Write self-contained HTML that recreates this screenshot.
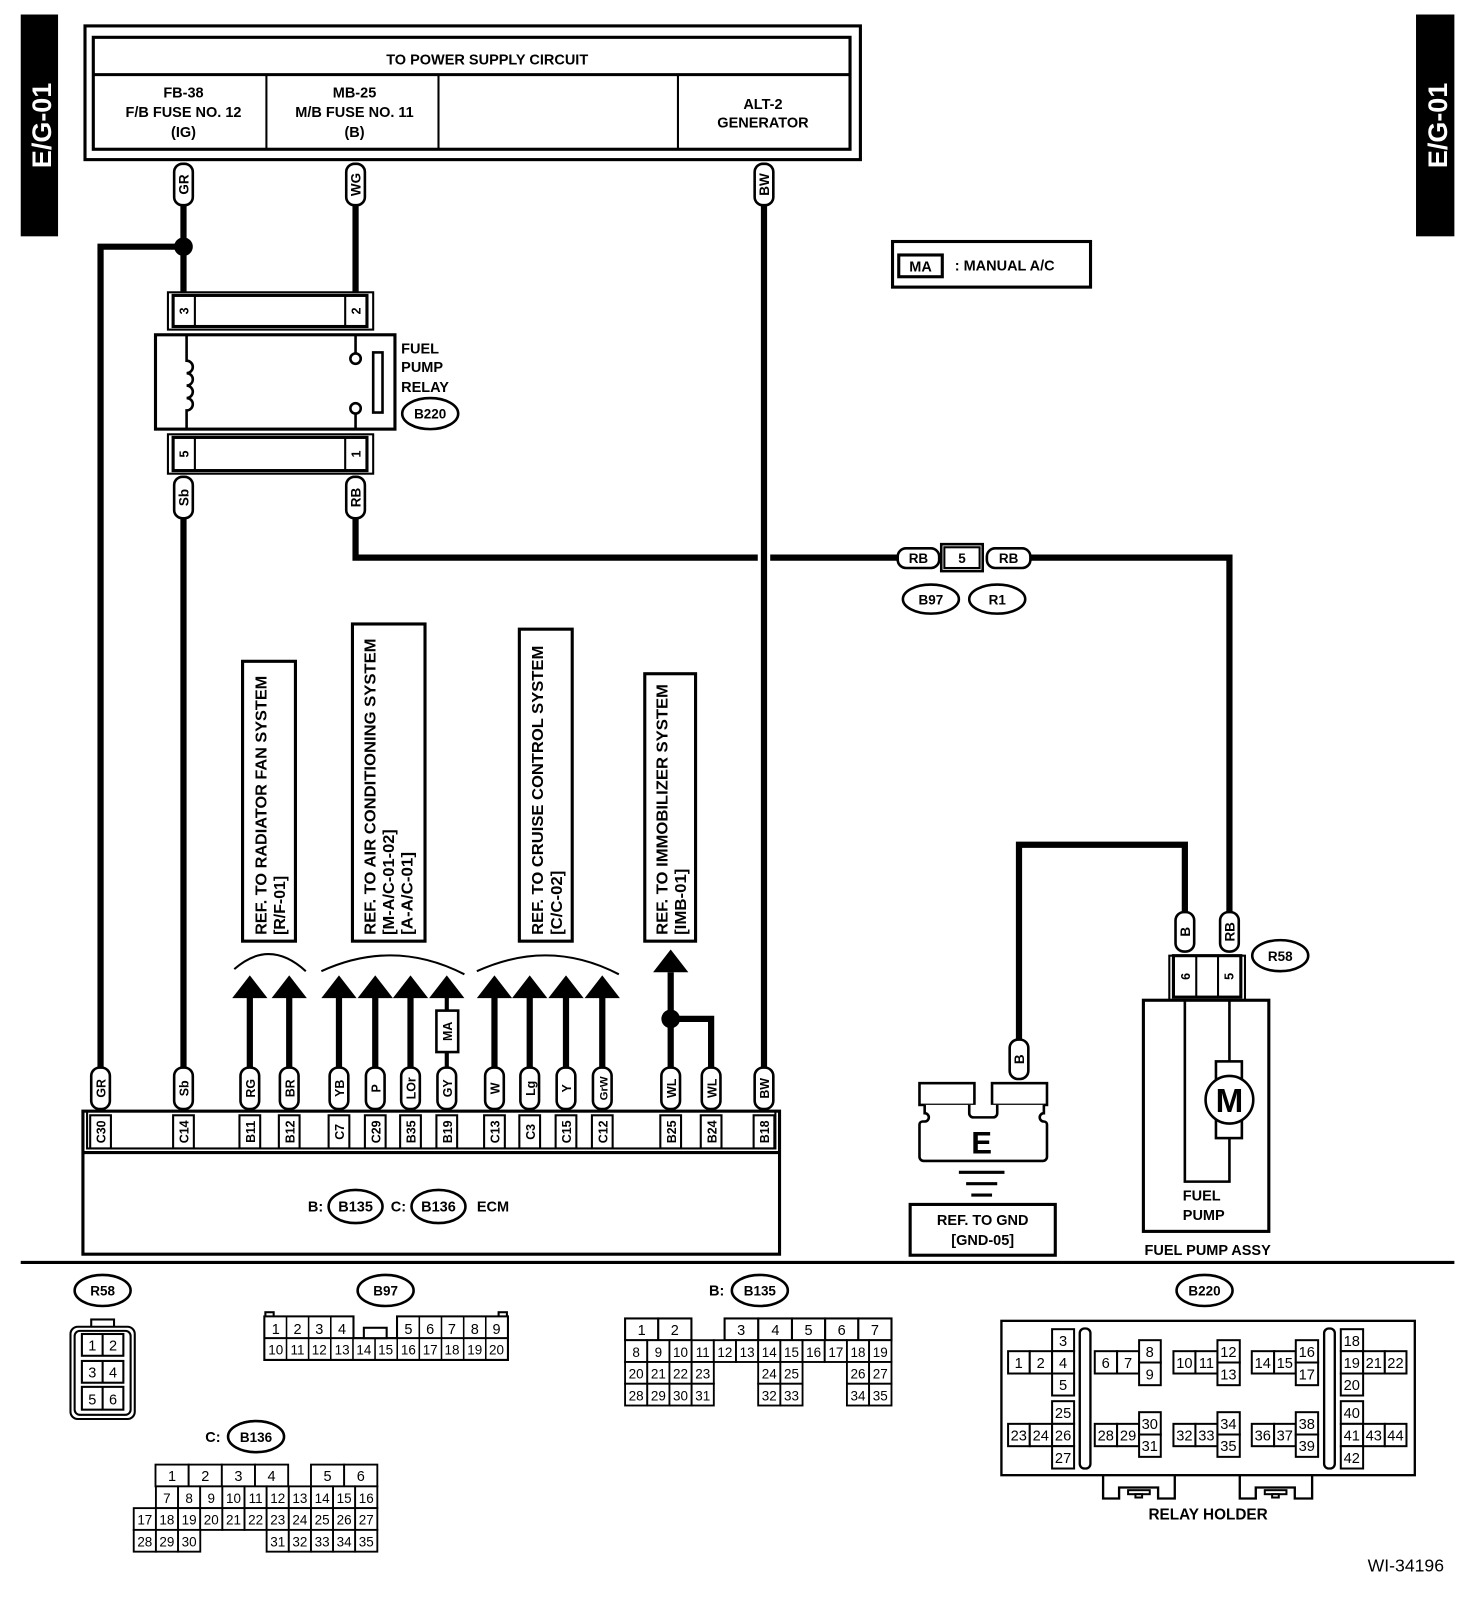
<!DOCTYPE html>
<html><head><meta charset="utf-8"><style>
html,body{margin:0;padding:0;background:#fff}
svg{display:block}
text{font-family:"Liberation Sans",Arial,sans-serif;font-weight:bold;fill:#000}
</style></head><body>
<svg width="1472" height="1618" viewBox="0 0 1420 1561" preserveAspectRatio="none" xmlns="http://www.w3.org/2000/svg">
<rect x="0" y="0" width="1420" height="1561" fill="#fff"/>
<rect x="20" y="14" width="36" height="214" fill="#000"/>
<text transform="translate(49,121) rotate(-90)" text-anchor="middle" font-size="26" style="fill:#fff">E/G-01</text>
<rect x="1366" y="14" width="37" height="214" fill="#000"/>
<text transform="translate(1396,121) rotate(-90)" text-anchor="middle" font-size="26" style="fill:#fff">E/G-01</text>

<g fill="none" stroke="#000">
<rect x="82" y="25" width="748" height="129" stroke-width="3"/>
<rect x="90" y="36" width="730" height="108" stroke-width="3"/>
<line x1="90" y1="72" x2="820" y2="72" stroke-width="3"/>
<line x1="257" y1="72" x2="257" y2="144" stroke-width="2"/>
<line x1="423" y1="72" x2="423" y2="144" stroke-width="2"/>
<line x1="654" y1="72" x2="654" y2="144" stroke-width="2"/>
</g>
<g font-size="14" text-anchor="middle">
<text x="470" y="62">TO POWER SUPPLY CIRCUIT</text>
<text x="177" y="94">FB-38</text><text x="177" y="113">F/B FUSE NO. 12</text><text x="177" y="132">(IG)</text>
<text x="342" y="94">MB-25</text><text x="342" y="113">M/B FUSE NO. 11</text><text x="342" y="132">(B)</text>
<text x="736" y="105">ALT-2</text><text x="736" y="123">GENERATOR</text>
</g>

<g stroke="#000" stroke-width="6" fill="none">
<line x1="177" y1="198" x2="177" y2="282"/>
<polyline points="177,238 97,238 97,1030"/>
<line x1="343" y1="198" x2="343" y2="282"/>
<line x1="737" y1="198" x2="737" y2="1030"/>
<line x1="177" y1="500" x2="177" y2="1030"/>
<polyline points="343,500 343,538 731,538"/>
<line x1="743" y1="538" x2="868" y2="538"/>
<polyline points="995,538 1186,538 1186,880"/>
<polyline points="1143,880 1143,815 983,815 983,1003"/>
<polyline points="647,938 647,1030"/>
<polyline points="647,983 686,983 686,1030"/>
</g>
<circle cx="177" cy="238" r="9" fill="#000"/>
<circle cx="647" cy="983" r="9" fill="#000"/>

<g fill="#fff" stroke="#000" stroke-width="2.5">
<rect x="168" y="158" width="18" height="40" rx="8"/>
<rect x="334" y="158" width="18" height="40" rx="8"/>
<rect x="728" y="158" width="18" height="40" rx="8"/>
<rect x="168" y="460" width="18" height="40" rx="8"/>
<rect x="334" y="460" width="18" height="40" rx="8"/>
<rect x="1134" y="880" width="18" height="38" rx="8"/>
<rect x="1177" y="880" width="18" height="38" rx="8"/>
<rect x="974" y="1003" width="18" height="38" rx="8"/>
</g>
<g font-size="13">
<text transform="translate(182,178) rotate(-90)" text-anchor="middle">GR</text>
<text transform="translate(348,178) rotate(-90)" text-anchor="middle">WG</text>
<text transform="translate(742,178) rotate(-90)" text-anchor="middle">BW</text>
<text transform="translate(182,480) rotate(-90)" text-anchor="middle">Sb</text>
<text transform="translate(348,480) rotate(-90)" text-anchor="middle">RB</text>
<text transform="translate(1148,899) rotate(-90)" text-anchor="middle">B</text>
<text transform="translate(1191,899) rotate(-90)" text-anchor="middle">RB</text>
<text transform="translate(988,1022) rotate(-90)" text-anchor="middle">B</text>
</g>

<g fill="#fff" stroke="#000">
<rect x="162" y="282" width="198" height="36" stroke-width="2"/>
<rect x="167" y="285" width="187" height="30" stroke-width="3"/>
<line x1="188" y1="285" x2="188" y2="315" stroke-width="2"/>
<line x1="333" y1="285" x2="333" y2="315" stroke-width="2"/>
<rect x="150" y="323" width="231" height="91" stroke-width="3"/>
<rect x="162" y="419" width="198" height="38" stroke-width="2"/>
<rect x="167" y="422" width="187" height="32" stroke-width="3"/>
<line x1="188" y1="422" x2="188" y2="454" stroke-width="2"/>
<line x1="333" y1="422" x2="333" y2="454" stroke-width="2"/>
</g>
<g font-size="12">
<text transform="translate(182,300) rotate(-90)" text-anchor="middle">3</text>
<text transform="translate(348,300) rotate(-90)" text-anchor="middle">2</text>
<text transform="translate(182,438) rotate(-90)" text-anchor="middle">5</text>
<text transform="translate(348,438) rotate(-90)" text-anchor="middle">1</text>
</g>
<g fill="none" stroke="#000" stroke-width="2.5">
<path d="M180,323 V348 a6,6 0 1 1 0,12 a6,6 0 1 1 0,12 a6,6 0 1 1 0,12 a6,6 0 1 1 0,12 V414"/>
<line x1="343" y1="323" x2="343" y2="341"/>
<circle cx="343" cy="346" r="5"/>
<circle cx="343" cy="394" r="5"/>
<line x1="343" y1="399" x2="343" y2="414"/>
<rect x="360" y="340" width="9" height="58"/>
</g>
<g font-size="14">
<text x="387" y="341">FUEL</text><text x="387" y="359">PUMP</text><text x="387" y="378">RELAY</text>
</g>
<ellipse cx="415" cy="399" rx="27" ry="15" fill="#fff" stroke="#000" stroke-width="2.5"/>
<text x="415" y="404" font-size="13" text-anchor="middle">B220</text>

<g fill="#fff" stroke="#000" stroke-width="2.5">
<rect x="866" y="529" width="40" height="19" rx="8"/>
<rect x="952" y="529" width="42" height="19" rx="8"/>
<rect x="908" y="525" width="40" height="26"/>
<ellipse cx="898" cy="578" rx="27" ry="14"/>
<ellipse cx="962" cy="578" rx="27" ry="14"/>
</g>
<rect x="911" y="528" width="34" height="20" fill="#fff" stroke="#000" stroke-width="2"/>
<g font-size="13" text-anchor="middle">
<text x="886" y="543">RB</text><text x="928" y="543">5</text><text x="973" y="543">RB</text>
<text x="898" y="583">B97</text><text x="962" y="583">R1</text>
</g>

<rect x="861" y="233" width="191" height="44" fill="none" stroke="#000" stroke-width="3"/>
<rect x="867" y="246" width="42" height="21" fill="none" stroke="#000" stroke-width="3"/>
<text x="888" y="262" font-size="14" text-anchor="middle">MA</text>
<text x="921" y="261" font-size="14">: MANUAL A/C</text>

<g fill="none" stroke="#000" stroke-width="3">
<rect x="234" y="638" width="51" height="270"/>
<rect x="340" y="602" width="70" height="306"/>
<rect x="501" y="607" width="51" height="301"/>
<rect x="622" y="650" width="49" height="258"/>
</g>
<g font-size="15">
<text transform="translate(257,902) rotate(-90)" textLength="250" lengthAdjust="spacingAndGlyphs">REF. TO RADIATOR FAN SYSTEM</text>
<text transform="translate(275,902) rotate(-90)" textLength="57" lengthAdjust="spacingAndGlyphs">[R/F-01]</text>
<text transform="translate(362,902) rotate(-90)" textLength="286" lengthAdjust="spacingAndGlyphs">REF. TO AIR CONDITIONING SYSTEM</text>
<text transform="translate(380,902) rotate(-90)" textLength="102" lengthAdjust="spacingAndGlyphs">[M-A/C-01-02]</text>
<text transform="translate(398,902) rotate(-90)" textLength="80" lengthAdjust="spacingAndGlyphs">[A-A/C-01]</text>
<text transform="translate(524,902) rotate(-90)" textLength="279" lengthAdjust="spacingAndGlyphs">REF. TO CRUISE CONTROL  SYSTEM</text>
<text transform="translate(542,902) rotate(-90)" textLength="62" lengthAdjust="spacingAndGlyphs">[C/C-02]</text>
<text transform="translate(644,902) rotate(-90)" textLength="242" lengthAdjust="spacingAndGlyphs">REF. TO IMMOBILIZER SYSTEM</text>
<text transform="translate(662,902) rotate(-90)" textLength="64" lengthAdjust="spacingAndGlyphs">[IMB-01]</text>
</g>
<g fill="none" stroke="#000" stroke-width="2">
<path d="M226,935 Q260,905 295,937"/>
<path d="M310,937 Q380,905 448,940"/>
<path d="M460,937 Q530,905 597,940"/>
</g>

<g stroke="#000" stroke-width="6">
<line x1="241" y1="960" x2="241" y2="1030"/>
<line x1="279" y1="960" x2="279" y2="1030"/>
<line x1="327" y1="960" x2="327" y2="1030"/>
<line x1="362" y1="960" x2="362" y2="1030"/>
<line x1="396" y1="960" x2="396" y2="1030"/>
<line x1="477" y1="960" x2="477" y2="1030"/>
<line x1="511" y1="960" x2="511" y2="1030"/>
<line x1="546" y1="960" x2="546" y2="1030"/>
<line x1="581" y1="960" x2="581" y2="1030"/>
</g>
<g stroke="#000" stroke-width="4">
<line x1="431" y1="960" x2="431" y2="976"/>
<line x1="431" y1="1014" x2="431" y2="1030"/>
</g>
<rect x="421" y="975" width="21" height="40" fill="#fff" stroke="#000" stroke-width="2.5"/>
<text transform="translate(436,995) rotate(-90)" font-size="12" text-anchor="middle">MA</text>
<g fill="#000">
<polygon points="224,963 241,941 258,963"/>
<polygon points="262,963 279,941 296,963"/>
<polygon points="310,963 327,941 344,963"/>
<polygon points="345,963 362,941 379,963"/>
<polygon points="379,963 396,941 413,963"/>
<polygon points="414,963 431,941 448,963"/>
<polygon points="460,963 477,941 494,963"/>
<polygon points="494,963 511,941 528,963"/>
<polygon points="529,963 546,941 563,963"/>
<polygon points="564,963 581,941 598,963"/>
<polygon points="630,938 647,916 664,938"/>
</g>

<g fill="#fff" stroke="#000" stroke-width="2.5">
<rect x="88" y="1030" width="18" height="40" rx="8"/>
<rect x="168" y="1030" width="18" height="40" rx="8"/>
<rect x="232" y="1030" width="18" height="40" rx="8"/>
<rect x="270" y="1030" width="18" height="40" rx="8"/>
<rect x="318" y="1030" width="18" height="40" rx="8"/>
<rect x="353" y="1030" width="18" height="40" rx="8"/>
<rect x="387" y="1030" width="18" height="40" rx="8"/>
<rect x="422" y="1030" width="18" height="40" rx="8"/>
<rect x="468" y="1030" width="18" height="40" rx="8"/>
<rect x="502" y="1030" width="18" height="40" rx="8"/>
<rect x="537" y="1030" width="18" height="40" rx="8"/>
<rect x="572" y="1030" width="18" height="40" rx="8"/>
<rect x="638" y="1030" width="18" height="40" rx="8"/>
<rect x="677" y="1030" width="18" height="40" rx="8"/>
<rect x="728" y="1030" width="18" height="40" rx="8"/>
</g>
<g font-size="12" text-anchor="middle">
<text transform="translate(102,1050) rotate(-90)">GR</text>
<text transform="translate(182,1050) rotate(-90)">Sb</text>
<text transform="translate(246,1050) rotate(-90)">RG</text>
<text transform="translate(284,1050) rotate(-90)">BR</text>
<text transform="translate(332,1050) rotate(-90)">YB</text>
<text transform="translate(367,1050) rotate(-90)">P</text>
<text transform="translate(401,1050) rotate(-90)">LOr</text>
<text transform="translate(436,1050) rotate(-90)">GY</text>
<text transform="translate(482,1050) rotate(-90)">W</text>
<text transform="translate(516,1050) rotate(-90)">Lg</text>
<text transform="translate(551,1050) rotate(-90)">Y</text>
<text transform="translate(586,1050) rotate(-90)" font-size="11">GrW</text>
<text transform="translate(652,1050) rotate(-90)">WL</text>
<text transform="translate(691,1050) rotate(-90)">WL</text>
<text transform="translate(742,1050) rotate(-90)">BW</text>
</g>
<rect x="80" y="1072" width="672" height="138" fill="#fff" stroke="#000" stroke-width="3"/>
<rect x="84" y="1072" width="664" height="36" fill="none" stroke="#000" stroke-width="2"/>
<line x1="80" y1="1112" x2="752" y2="1112" stroke="#000" stroke-width="3"/>
<g fill="none" stroke="#000" stroke-width="2">
<rect x="87" y="1076" width="20" height="32"/>
<rect x="167" y="1076" width="20" height="32"/>
<rect x="231" y="1076" width="20" height="32"/>
<rect x="269" y="1076" width="20" height="32"/>
<rect x="317" y="1076" width="20" height="32"/>
<rect x="352" y="1076" width="20" height="32"/>
<rect x="386" y="1076" width="20" height="32"/>
<rect x="421" y="1076" width="20" height="32"/>
<rect x="467" y="1076" width="20" height="32"/>
<rect x="501" y="1076" width="20" height="32"/>
<rect x="536" y="1076" width="20" height="32"/>
<rect x="571" y="1076" width="20" height="32"/>
<rect x="637" y="1076" width="20" height="32"/>
<rect x="676" y="1076" width="20" height="32"/>
<rect x="727" y="1076" width="20" height="32"/>
</g>
<g font-size="12" text-anchor="middle">
<text transform="translate(102,1092) rotate(-90)">C30</text>
<text transform="translate(182,1092) rotate(-90)">C14</text>
<text transform="translate(246,1092) rotate(-90)">B11</text>
<text transform="translate(284,1092) rotate(-90)">B12</text>
<text transform="translate(332,1092) rotate(-90)">C7</text>
<text transform="translate(367,1092) rotate(-90)">C29</text>
<text transform="translate(401,1092) rotate(-90)">B35</text>
<text transform="translate(436,1092) rotate(-90)">B19</text>
<text transform="translate(482,1092) rotate(-90)">C13</text>
<text transform="translate(516,1092) rotate(-90)">C3</text>
<text transform="translate(551,1092) rotate(-90)">C15</text>
<text transform="translate(586,1092) rotate(-90)">C12</text>
<text transform="translate(652,1092) rotate(-90)">B25</text>
<text transform="translate(691,1092) rotate(-90)">B24</text>
<text transform="translate(742,1092) rotate(-90)">B18</text>
</g>
<g fill="#fff" stroke="#000" stroke-width="2.5">
<ellipse cx="343" cy="1164" rx="26" ry="16"/>
<ellipse cx="423" cy="1164" rx="26" ry="16"/>
</g>
<g font-size="14">
<text x="297" y="1169">B:</text><text x="343" y="1169" text-anchor="middle">B135</text>
<text x="377" y="1169">C:</text><text x="423" y="1169" text-anchor="middle">B136</text>
<text x="460" y="1169">ECM</text>
</g>

<g fill="#fff" stroke="#000" stroke-width="2.5">
<rect x="887" y="1045" width="53" height="21"/>
<rect x="957" y="1045" width="53" height="21"/>
<path d="M892,1066 V1074 a4,4 0 0 1 0,8 H890 a3,3 0 0 0 -3,3 V1116 a4,4 0 0 0 4,4 H1006 a4,4 0 0 0 4,-4 V1085 a3,3 0 0 0 -3,-3 a4,4 0 0 1 0,-8 V1066 M935,1066 V1074 a4,4 0 0 0 4,4 H958 a4,4 0 0 0 4,-4 V1066"/>
</g>
<text x="947" y="1113" font-size="30" text-anchor="middle">E</text>
<g stroke="#000" stroke-width="3">
<line x1="925" y1="1131" x2="969" y2="1131"/>
<line x1="932" y1="1142" x2="962" y2="1142"/>
<line x1="937" y1="1153" x2="957" y2="1153"/>
</g>
<rect x="878" y="1162" width="140" height="49" fill="none" stroke="#000" stroke-width="3"/>
<g font-size="14" text-anchor="middle"><text x="948" y="1182">REF. TO GND</text><text x="948" y="1201">[GND-05]</text></g>

<g fill="#fff" stroke="#000">
<rect x="1128" y="922" width="73" height="43" stroke-width="2"/>
<rect x="1132" y="922" width="65" height="40" stroke-width="3"/>
<line x1="1154" y1="922" x2="1154" y2="962" stroke-width="2"/>
<line x1="1175" y1="922" x2="1175" y2="962" stroke-width="2"/>
<rect x="1103" y="965" width="121" height="223" stroke-width="3"/>
<ellipse cx="1235" cy="922" rx="27" ry="15" stroke-width="2.5"/>
</g>
<g font-size="12" text-anchor="middle">
<text transform="translate(1148,942) rotate(-90)">6</text>
<text transform="translate(1190,942) rotate(-90)">5</text>
</g>
<text x="1235" y="927" font-size="13" text-anchor="middle">R58</text>
<g fill="none" stroke="#000" stroke-width="2.5">
<polyline points="1143,965 1143,1140 1186,1140 1186,1098"/>
<line x1="1186" y1="965" x2="1186" y2="1024"/>
<rect x="1173" y="1024" width="25" height="74" fill="#fff"/>
<circle cx="1186" cy="1061" r="23" fill="#fff"/>
</g>
<text x="1186" y="1073" font-size="32" text-anchor="middle">M</text>
<g font-size="14"><text x="1141" y="1158">FUEL</text><text x="1141" y="1177">PUMP</text></g>
<text x="1165" y="1211" font-size="14" text-anchor="middle">FUEL PUMP ASSY</text>

<line x1="20" y1="1218" x2="1403" y2="1218" stroke="#000" stroke-width="3"/>

<g fill="#fff" stroke="#000" stroke-width="2.5">
<ellipse cx="99" cy="1245" rx="27" ry="15"/>
<ellipse cx="372" cy="1245" rx="27" ry="15"/>
<ellipse cx="733" cy="1245" rx="27" ry="15"/>
<ellipse cx="247" cy="1386" rx="27" ry="15"/>
</g>
<g font-size="13" text-anchor="middle">
<text x="99" y="1250">R58</text><text x="372" y="1250">B97</text>
<text x="733" y="1250">B135</text><text x="247" y="1391">B136</text>
</g>
<text x="684" y="1250" font-size="14">B:</text>
<text x="198" y="1391" font-size="14">C:</text>

<g fill="#fff" stroke="#000" stroke-width="2">
<rect x="88" y="1273" width="22" height="9"/>
<rect x="68" y="1280" width="62" height="89" rx="7"/>
<rect x="72" y="1284" width="54" height="81" rx="5"/>
<rect x="79" y="1287" width="40" height="21"/>
<line x1="99" y1="1287" x2="99" y2="1308"/>
<rect x="79" y="1313" width="40" height="21"/>
<line x1="99" y1="1313" x2="99" y2="1334"/>
<rect x="79" y="1338" width="40" height="22"/>
<line x1="99" y1="1338" x2="99" y2="1360"/>
</g>
<g font-size="14" text-anchor="middle">
<text x="89" y="1303" style="font-weight:normal">1</text><text x="109" y="1303" style="font-weight:normal">2</text>
<text x="89" y="1329" style="font-weight:normal">3</text><text x="109" y="1329" style="font-weight:normal">4</text>
<text x="89" y="1355" style="font-weight:normal">5</text><text x="109" y="1355" style="font-weight:normal">6</text>
</g>

<g fill="#fff" stroke="#000" stroke-width="2">
<rect x="256" y="1266" width="8" height="5"/>
<rect x="481" y="1266" width="8" height="5"/>
<path d="M255,1270 H341 V1291 H383 V1270 H490 V1312 H255 Z"/>
<line x1="255" y1="1291" x2="490" y2="1291"/>
<rect x="351" y="1281" width="22" height="10"/>
</g>
<g stroke="#000" stroke-width="1.5">
<line x1="276.4" y1="1270" x2="276.4" y2="1312"/><line x1="297.7" y1="1270" x2="297.7" y2="1312"/><line x1="319.1" y1="1270" x2="319.1" y2="1312"/>
<line x1="340.5" y1="1291" x2="340.5" y2="1312"/><line x1="361.8" y1="1291" x2="361.8" y2="1312"/><line x1="383.2" y1="1291" x2="383.2" y2="1312"/>
<line x1="404.5" y1="1270" x2="404.5" y2="1312"/><line x1="425.9" y1="1270" x2="425.9" y2="1312"/><line x1="447.3" y1="1270" x2="447.3" y2="1312"/><line x1="468.6" y1="1270" x2="468.6" y2="1312"/>
</g>
<g font-size="14" text-anchor="middle">
<text x="266" y="1287" style="font-weight:normal">1</text><text x="287" y="1287" style="font-weight:normal">2</text><text x="308" y="1287" style="font-weight:normal">3</text><text x="330" y="1287" style="font-weight:normal">4</text>
<text x="394" y="1287" style="font-weight:normal">5</text><text x="415" y="1287" style="font-weight:normal">6</text><text x="436" y="1287" style="font-weight:normal">7</text><text x="458" y="1287" style="font-weight:normal">8</text><text x="479" y="1287" style="font-weight:normal">9</text>
</g>
<g font-size="13" text-anchor="middle">
<text x="266" y="1307" style="font-weight:normal">10</text><text x="287" y="1307" style="font-weight:normal">11</text><text x="308" y="1307" style="font-weight:normal">12</text><text x="330" y="1307" style="font-weight:normal">13</text><text x="351" y="1307" style="font-weight:normal">14</text><text x="372" y="1307" style="font-weight:normal">15</text><text x="394" y="1307" style="font-weight:normal">16</text><text x="415" y="1307" style="font-weight:normal">17</text><text x="436" y="1307" style="font-weight:normal">18</text><text x="458" y="1307" style="font-weight:normal">19</text><text x="479" y="1307" style="font-weight:normal">20</text>
</g>

<g fill="#fff" stroke="#000" stroke-width="2">
<rect x="603" y="1272" width="32" height="21"/><rect x="635" y="1272" width="32" height="21"/>
<rect x="699" y="1272" width="32.5" height="21"/><rect x="731.5" y="1272" width="32.5" height="21"/><rect x="764" y="1272" width="32" height="21"/><rect x="796" y="1272" width="32" height="21"/><rect x="828" y="1272" width="32" height="21"/>
</g>
<g fill="#fff" stroke="#000" stroke-width="1.8">
<rect x="603" y="1293" width="21.4" height="21"/><rect x="624.4" y="1293" width="21.4" height="21"/><rect x="645.8" y="1293" width="21.4" height="21"/><rect x="667.2" y="1293" width="21.4" height="21"/><rect x="688.6" y="1293" width="21.4" height="21"/><rect x="710" y="1293" width="21.4" height="21"/><rect x="731.4" y="1293" width="21.4" height="21"/><rect x="752.8" y="1293" width="21.4" height="21"/><rect x="774.2" y="1293" width="21.4" height="21"/><rect x="795.6" y="1293" width="21.4" height="21"/><rect x="817" y="1293" width="21.4" height="21"/><rect x="838.4" y="1293" width="21.6" height="21"/>
<rect x="603" y="1314" width="21.4" height="21"/><rect x="624.4" y="1314" width="21.4" height="21"/><rect x="645.8" y="1314" width="21.4" height="21"/><rect x="667.2" y="1314" width="21.4" height="21"/>
<rect x="731.4" y="1314" width="21.4" height="21"/><rect x="752.8" y="1314" width="21.4" height="21"/>
<rect x="817" y="1314" width="21.4" height="21"/><rect x="838.4" y="1314" width="21.6" height="21"/>
<rect x="603" y="1335" width="21.4" height="21"/><rect x="624.4" y="1335" width="21.4" height="21"/><rect x="645.8" y="1335" width="21.4" height="21"/><rect x="667.2" y="1335" width="21.4" height="21"/>
<rect x="731.4" y="1335" width="21.4" height="21"/><rect x="752.8" y="1335" width="21.4" height="21"/>
<rect x="817" y="1335" width="21.4" height="21"/><rect x="838.4" y="1335" width="21.6" height="21"/>
</g>
<g font-size="14" text-anchor="middle">
<text x="619" y="1288" style="font-weight:normal">1</text><text x="651" y="1288" style="font-weight:normal">2</text><text x="715" y="1288" style="font-weight:normal">3</text><text x="748" y="1288" style="font-weight:normal">4</text><text x="780" y="1288" style="font-weight:normal">5</text><text x="812" y="1288" style="font-weight:normal">6</text><text x="844" y="1288" style="font-weight:normal">7</text>
</g>
<g font-size="13" text-anchor="middle">
<text x="613.7" y="1309" style="font-weight:normal">8</text><text x="635.1" y="1309" style="font-weight:normal">9</text><text x="656.5" y="1309" style="font-weight:normal">10</text><text x="677.9" y="1309" style="font-weight:normal">11</text><text x="699.3" y="1309" style="font-weight:normal">12</text><text x="720.7" y="1309" style="font-weight:normal">13</text><text x="742.1" y="1309" style="font-weight:normal">14</text><text x="763.5" y="1309" style="font-weight:normal">15</text><text x="784.9" y="1309" style="font-weight:normal">16</text><text x="806.3" y="1309" style="font-weight:normal">17</text><text x="827.7" y="1309" style="font-weight:normal">18</text><text x="849.2" y="1309" style="font-weight:normal">19</text>
<text x="613.7" y="1330" style="font-weight:normal">20</text><text x="635.1" y="1330" style="font-weight:normal">21</text><text x="656.5" y="1330" style="font-weight:normal">22</text><text x="677.9" y="1330" style="font-weight:normal">23</text><text x="742.1" y="1330" style="font-weight:normal">24</text><text x="763.5" y="1330" style="font-weight:normal">25</text><text x="827.7" y="1330" style="font-weight:normal">26</text><text x="849.2" y="1330" style="font-weight:normal">27</text>
<text x="613.7" y="1351" style="font-weight:normal">28</text><text x="635.1" y="1351" style="font-weight:normal">29</text><text x="656.5" y="1351" style="font-weight:normal">30</text><text x="677.9" y="1351" style="font-weight:normal">31</text><text x="742.1" y="1351" style="font-weight:normal">32</text><text x="763.5" y="1351" style="font-weight:normal">33</text><text x="827.7" y="1351" style="font-weight:normal">34</text><text x="849.2" y="1351" style="font-weight:normal">35</text>
</g>

<g fill="#fff" stroke="#000" stroke-width="1.8">
<rect x="150" y="1413" width="32" height="21"/><rect x="182" y="1413" width="32" height="21"/><rect x="214" y="1413" width="32" height="21"/><rect x="246" y="1413" width="32" height="21"/>
<rect x="300" y="1413" width="32" height="21"/><rect x="332" y="1413" width="32" height="21"/>
<rect x="150.4" y="1434" width="21.4" height="21"/><rect x="171.8" y="1434" width="21.4" height="21"/><rect x="193.1" y="1434" width="21.4" height="21"/><rect x="214.5" y="1434" width="21.4" height="21"/><rect x="235.9" y="1434" width="21.4" height="21"/><rect x="257.2" y="1434" width="21.4" height="21"/><rect x="278.6" y="1434" width="21.4" height="21"/><rect x="300" y="1434" width="21.4" height="21"/><rect x="321.3" y="1434" width="21.4" height="21"/><rect x="342.6" y="1434" width="21.4" height="21"/>
<rect x="129" y="1455" width="21.4" height="21"/><rect x="150.4" y="1455" width="21.4" height="21"/><rect x="171.8" y="1455" width="21.4" height="21"/><rect x="193.1" y="1455" width="21.4" height="21"/><rect x="214.5" y="1455" width="21.4" height="21"/><rect x="235.9" y="1455" width="21.4" height="21"/><rect x="257.2" y="1455" width="21.4" height="21"/><rect x="278.6" y="1455" width="21.4" height="21"/><rect x="300" y="1455" width="21.4" height="21"/><rect x="321.3" y="1455" width="21.4" height="21"/><rect x="342.6" y="1455" width="21.4" height="21"/>
<rect x="129" y="1476" width="21.4" height="21"/><rect x="150.4" y="1476" width="21.4" height="21"/><rect x="171.8" y="1476" width="21.4" height="21"/>
<rect x="257.2" y="1476" width="21.4" height="21"/><rect x="278.6" y="1476" width="21.4" height="21"/><rect x="300" y="1476" width="21.4" height="21"/><rect x="321.3" y="1476" width="21.4" height="21"/><rect x="342.6" y="1476" width="21.4" height="21"/>
</g>
<g font-size="14" text-anchor="middle">
<text x="166" y="1429" style="font-weight:normal">1</text><text x="198" y="1429" style="font-weight:normal">2</text><text x="230" y="1429" style="font-weight:normal">3</text><text x="262" y="1429" style="font-weight:normal">4</text><text x="316" y="1429" style="font-weight:normal">5</text><text x="348" y="1429" style="font-weight:normal">6</text>
</g>
<g font-size="13" text-anchor="middle">
<text x="161" y="1450" style="font-weight:normal">7</text><text x="182.5" y="1450" style="font-weight:normal">8</text><text x="203.8" y="1450" style="font-weight:normal">9</text><text x="225.2" y="1450" style="font-weight:normal">10</text><text x="246.6" y="1450" style="font-weight:normal">11</text><text x="268" y="1450" style="font-weight:normal">12</text><text x="289.3" y="1450" style="font-weight:normal">13</text><text x="310.7" y="1450" style="font-weight:normal">14</text><text x="332" y="1450" style="font-weight:normal">15</text><text x="353.3" y="1450" style="font-weight:normal">16</text>
<text x="139.7" y="1471" style="font-weight:normal">17</text><text x="161" y="1471" style="font-weight:normal">18</text><text x="182.5" y="1471" style="font-weight:normal">19</text><text x="203.8" y="1471" style="font-weight:normal">20</text><text x="225.2" y="1471" style="font-weight:normal">21</text><text x="246.6" y="1471" style="font-weight:normal">22</text><text x="268" y="1471" style="font-weight:normal">23</text><text x="289.3" y="1471" style="font-weight:normal">24</text><text x="310.7" y="1471" style="font-weight:normal">25</text><text x="332" y="1471" style="font-weight:normal">26</text><text x="353.3" y="1471" style="font-weight:normal">27</text>
<text x="139.7" y="1492" style="font-weight:normal">28</text><text x="161" y="1492" style="font-weight:normal">29</text><text x="182.5" y="1492" style="font-weight:normal">30</text><text x="268" y="1492" style="font-weight:normal">31</text><text x="289.3" y="1492" style="font-weight:normal">32</text><text x="310.7" y="1492" style="font-weight:normal">33</text><text x="332" y="1492" style="font-weight:normal">34</text><text x="353.3" y="1492" style="font-weight:normal">35</text>
</g>

<ellipse cx="1162" cy="1245" rx="27" ry="15" fill="#fff" stroke="#000" stroke-width="2.5"/>
<text x="1162" y="1250" font-size="13" text-anchor="middle">B220</text>
<g transform="translate(958,1219) scale(0.3216)">
<g fill="#fff" stroke="#000" stroke-width="7">
<rect x="25" y="172" width="1240" height="463"/>
<rect x="260" y="195" width="32" height="420" rx="14"/>
<rect x="993" y="195" width="32" height="420" rx="14"/>
</g>
<g fill="#fff" stroke="#000" stroke-width="6">
<rect x="45" y="263" width="65" height="67"/><rect x="110" y="263" width="67" height="67"/>
<rect x="177" y="197" width="66" height="66"/><rect x="177" y="263" width="66" height="67"/><rect x="177" y="330" width="66" height="66"/>
<rect x="45" y="481" width="65" height="67"/><rect x="110" y="481" width="67" height="67"/>
<rect x="177" y="413" width="66" height="68"/><rect x="177" y="481" width="66" height="67"/><rect x="177" y="548" width="66" height="67"/>
<rect x="305" y="263" width="67" height="67"/><rect x="372" y="263" width="66" height="67"/>
<rect x="438" y="230" width="65" height="67"/><rect x="438" y="297" width="65" height="68"/>
<rect x="305" y="481" width="67" height="67"/><rect x="372" y="481" width="66" height="67"/>
<rect x="438" y="446" width="65" height="67"/><rect x="438" y="513" width="65" height="67"/>
<rect x="541" y="263" width="66" height="67"/><rect x="607" y="263" width="66" height="67"/>
<rect x="673" y="230" width="67" height="67"/><rect x="673" y="297" width="67" height="68"/>
<rect x="541" y="481" width="66" height="67"/><rect x="607" y="481" width="66" height="67"/>
<rect x="673" y="446" width="67" height="67"/><rect x="673" y="513" width="67" height="67"/>
<rect x="776" y="263" width="67" height="67"/><rect x="843" y="263" width="65" height="67"/>
<rect x="908" y="230" width="67" height="67"/><rect x="908" y="297" width="67" height="68"/>
<rect x="776" y="481" width="67" height="67"/><rect x="843" y="481" width="65" height="67"/>
<rect x="908" y="446" width="67" height="67"/><rect x="908" y="513" width="67" height="67"/>
<rect x="1043" y="197" width="67" height="66"/><rect x="1043" y="263" width="67" height="67"/><rect x="1043" y="330" width="67" height="66"/>
<rect x="1110" y="263" width="65" height="67"/><rect x="1175" y="263" width="65" height="67"/>
<rect x="1043" y="413" width="67" height="68"/><rect x="1043" y="481" width="67" height="67"/><rect x="1043" y="548" width="67" height="67"/>
<rect x="1110" y="481" width="65" height="67"/><rect x="1175" y="481" width="65" height="67"/>
</g>
<g font-size="44" text-anchor="middle">
<text x="77" y="313" style="font-weight:normal">1</text><text x="143" y="313" style="font-weight:normal">2</text><text x="210" y="247" style="font-weight:normal">3</text><text x="210" y="313" style="font-weight:normal">4</text><text x="210" y="380" style="font-weight:normal">5</text>
<text x="77" y="531" style="font-weight:normal">23</text><text x="143" y="531" style="font-weight:normal">24</text><text x="210" y="464" style="font-weight:normal">25</text><text x="210" y="531" style="font-weight:normal">26</text><text x="210" y="598" style="font-weight:normal">27</text>
<text x="338" y="313" style="font-weight:normal">6</text><text x="405" y="313" style="font-weight:normal">7</text><text x="470" y="280" style="font-weight:normal">8</text><text x="470" y="348" style="font-weight:normal">9</text>
<text x="338" y="531" style="font-weight:normal">28</text><text x="405" y="531" style="font-weight:normal">29</text><text x="470" y="497" style="font-weight:normal">30</text><text x="470" y="563" style="font-weight:normal">31</text>
<text x="574" y="313" style="font-weight:normal">10</text><text x="640" y="313" style="font-weight:normal">11</text><text x="706" y="280" style="font-weight:normal">12</text><text x="706" y="348" style="font-weight:normal">13</text>
<text x="574" y="531" style="font-weight:normal">32</text><text x="640" y="531" style="font-weight:normal">33</text><text x="706" y="497" style="font-weight:normal">34</text><text x="706" y="563" style="font-weight:normal">35</text>
<text x="809" y="313" style="font-weight:normal">14</text><text x="875" y="313" style="font-weight:normal">15</text><text x="941" y="280" style="font-weight:normal">16</text><text x="941" y="348" style="font-weight:normal">17</text>
<text x="809" y="531" style="font-weight:normal">36</text><text x="875" y="531" style="font-weight:normal">37</text><text x="941" y="497" style="font-weight:normal">38</text><text x="941" y="563" style="font-weight:normal">39</text>
<text x="1076" y="247" style="font-weight:normal">18</text><text x="1076" y="313" style="font-weight:normal">19</text><text x="1076" y="380" style="font-weight:normal">20</text><text x="1142" y="313" style="font-weight:normal">21</text><text x="1207" y="313" style="font-weight:normal">22</text>
<text x="1076" y="464" style="font-weight:normal">40</text><text x="1076" y="531" style="font-weight:normal">41</text><text x="1076" y="598" style="font-weight:normal">42</text><text x="1142" y="531" style="font-weight:normal">43</text><text x="1207" y="531" style="font-weight:normal">44</text>
</g>
<g fill="none" stroke="#000" stroke-width="7">
<path d="M330,635 V705 H378 V672 H495 V705 H545 V635"/>
<path d="M740,635 V705 H788 V672 H905 V705 H957 V635"/>
</g>
<g fill="#fff" stroke="#000" stroke-width="6">
<rect x="405" y="680" width="65" height="12"/><rect x="427" y="692" width="20" height="10"/>
<rect x="815" y="680" width="65" height="12"/><rect x="837" y="692" width="20" height="10"/>
</g>
<text x="645" y="768" font-size="46" text-anchor="middle">RELAY HOLDER</text>
</g>

<text x="1393" y="1516" font-size="17" text-anchor="end" style="font-weight:normal">WI-34196</text>
</svg>
</body></html>
